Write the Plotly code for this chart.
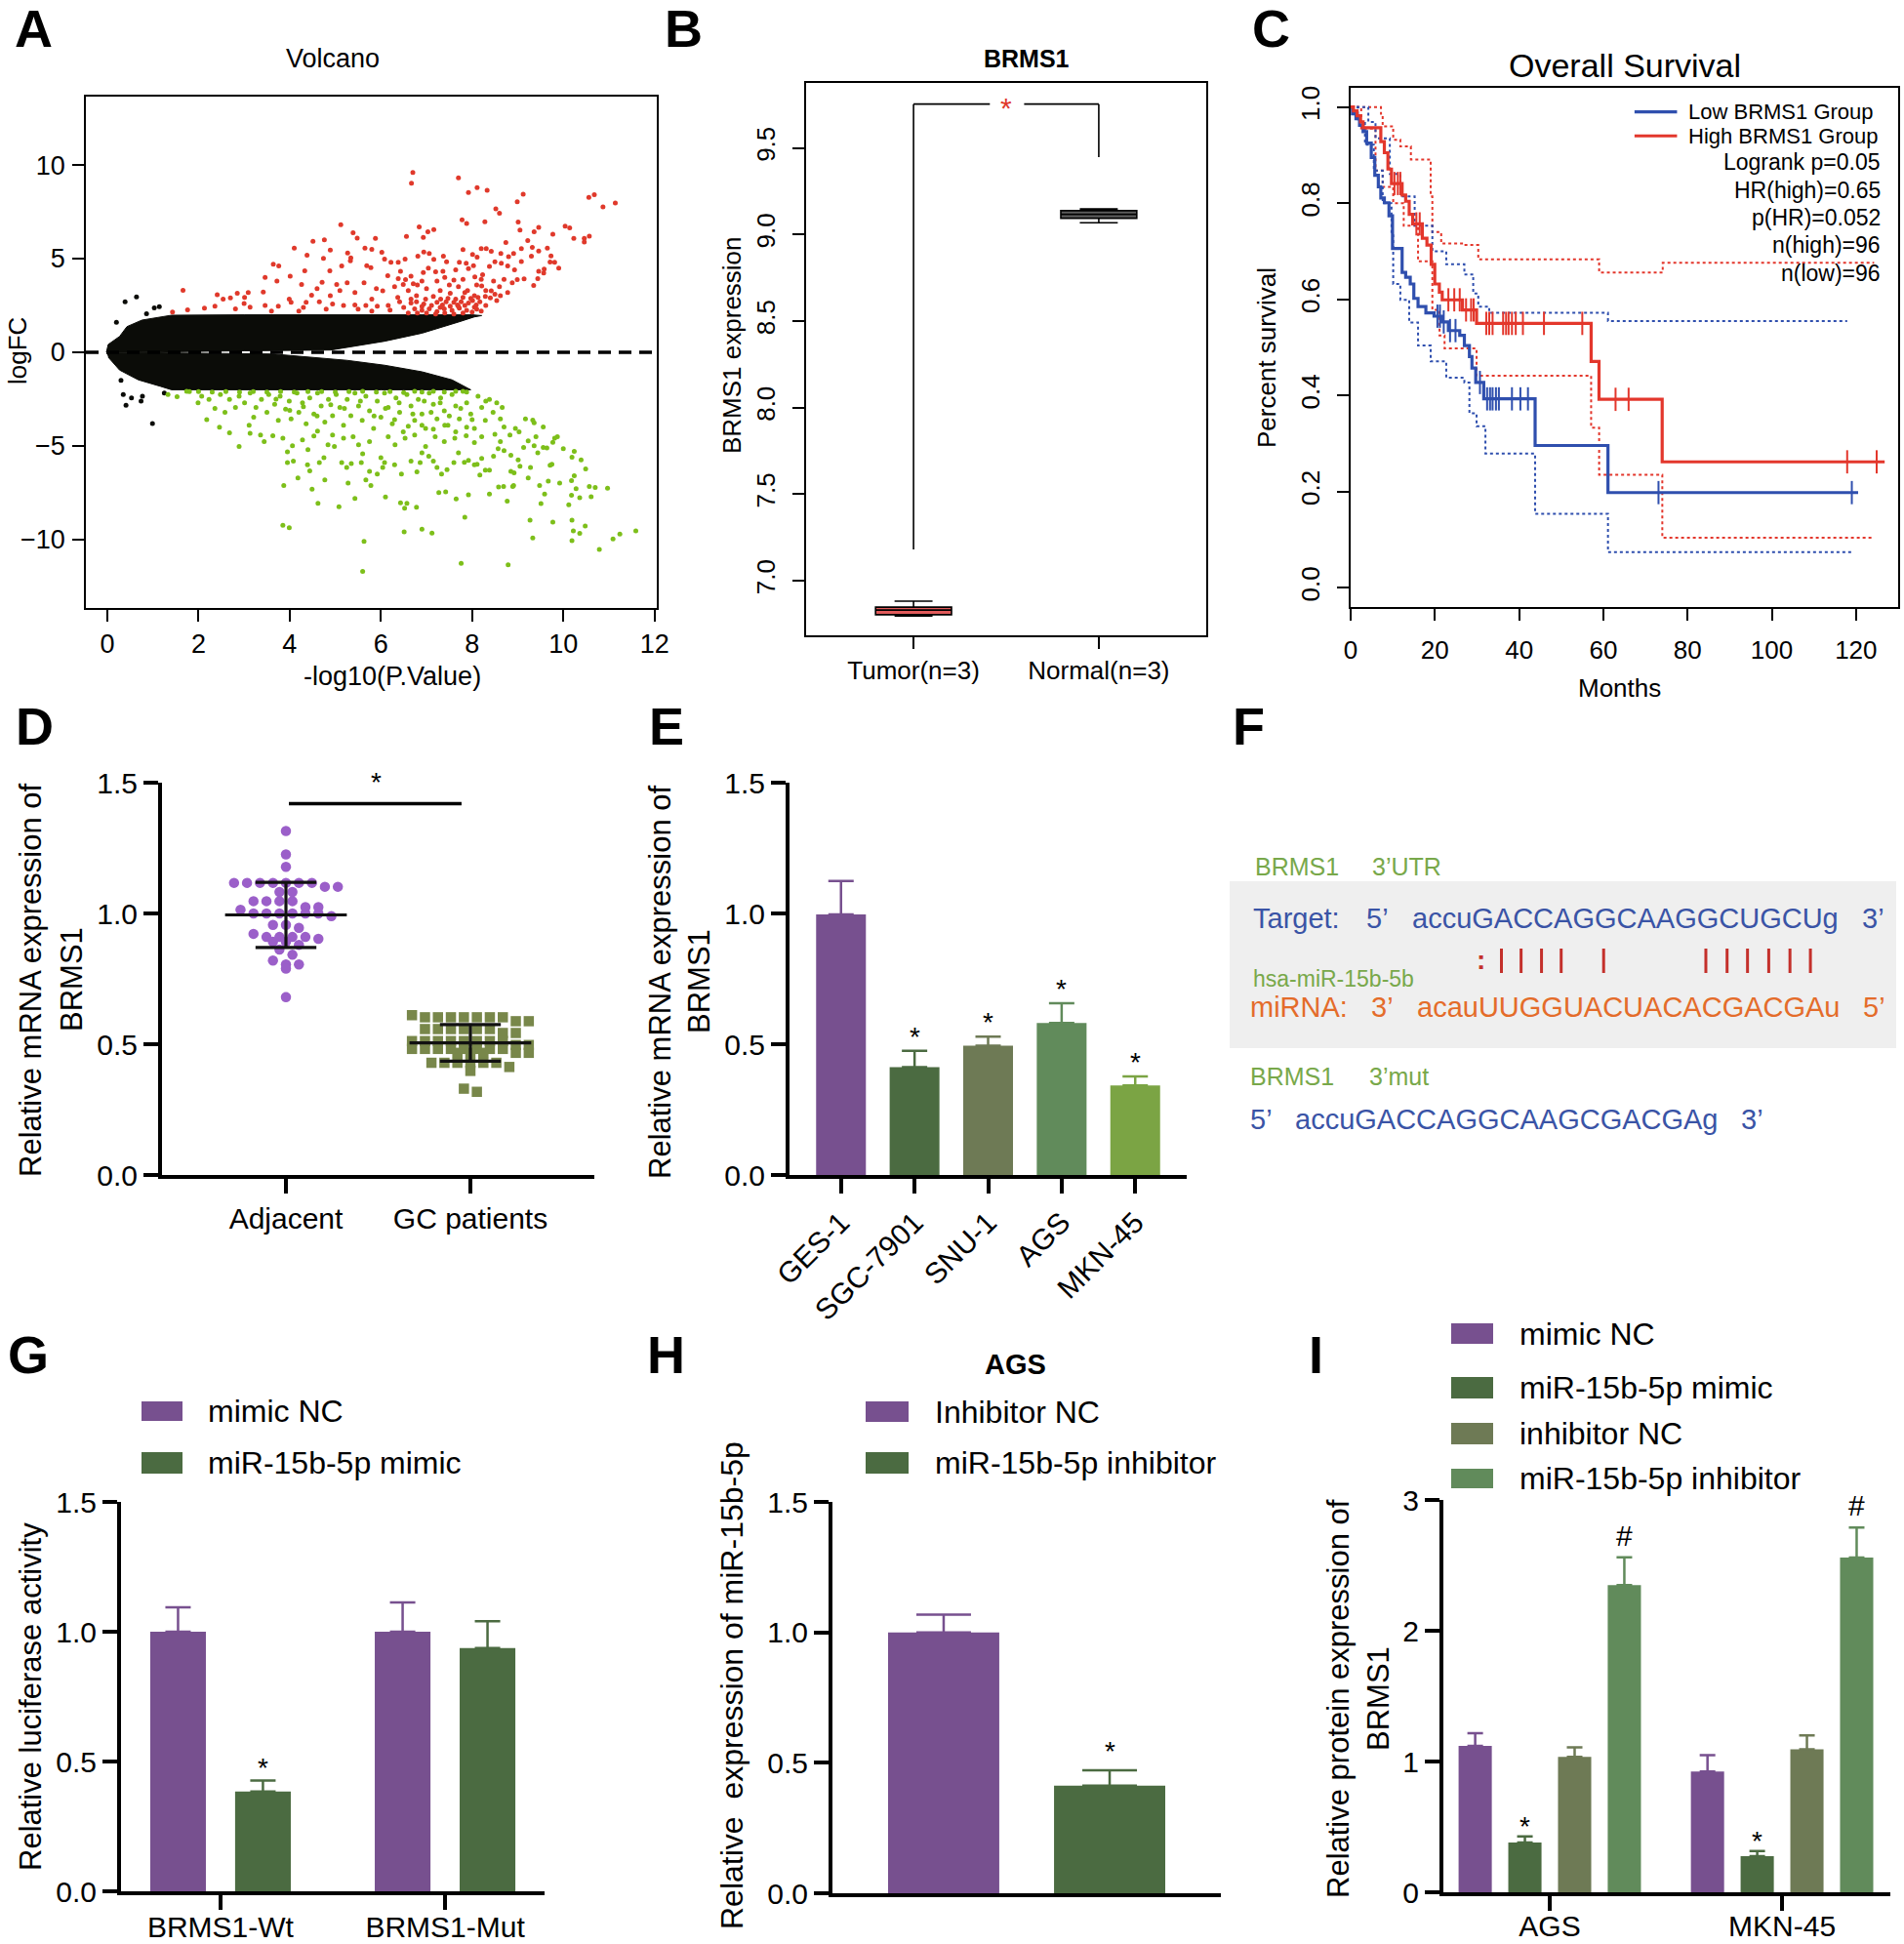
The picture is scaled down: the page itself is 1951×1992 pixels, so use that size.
import numpy as np
import plotly.graph_objects as go

# ---------------- data ----------------
# A: volcano (dense black cloud as envelope, coloured points)
cloud_up_x = [-0.02, 0.02, 0.27, 0.43, 0.76, 1.41, 3.0, 5.0, 7.0, 8.0, 8.21, 8.05, 7.72, 6.9, 6.08, 5.26, 4.9, 3.0, 1.4, 0.5]
cloud_up_y = [0.0, 0.42, 0.85, 1.37, 1.72, 1.98, 2.0, 2.0, 2.0, 2.0, 1.96, 1.89, 1.63, 1.02, 0.59, 0.24, 0.12, 0.08, 0.04, 0.0]
cloud_dn_x = [-0.02, 0.5, 2.0, 3.63, 5.26, 6.08, 6.9, 7.56, 7.88, 7.97, 6.0, 4.0, 1.41, 1.17, 0.68, 0.27, 0.02]
cloud_dn_y = [0.0, -0.02, -0.05, -0.09, -0.43, -0.69, -1.04, -1.47, -1.9, -2.0, -2.0, -2.0, -2.0, -1.82, -1.47, -0.95, -0.26]
black_pts = [(0.39, 2.70), (0.64, 2.96), (1.03, 2.37), (1.14, 2.44), (0.86, 2.06), (0.35, -2.25), (0.41, -2.82),
             (0.53, -2.43), (0.74, -2.60), (0.77, -2.34), (0.99, -3.80), (1.25, -2.17), (0.2, 1.6), (0.3, -1.5)]
red_pts = [(6.70,9.60),(6.67,9.03),(7.70,9.31),(8.11,8.79),(7.92,8.53),(8.33,8.65),(9.12,8.44),(8.99,8.04),(8.52,7.66),(8.60,7.43),
 (10.56,8.27),(10.68,8.42),(10.87,7.76),(11.14,7.97),(7.78,7.07),(7.88,6.88),(8.28,6.97),(9.01,6.95),(9.05,6.52),(9.46,6.67),
 (9.36,6.43),(10.04,6.74),(10.14,6.64),(9.77,6.31),(10.23,6.08),(10.46,6.08),(10.46,5.89),(10.57,6.20),(5.12,6.81),(5.39,6.38),
 (5.48,6.10),(5.88,6.08),(6.56,6.19),(6.84,6.69),(6.93,6.13),(7.03,6.43),(7.16,6.55),(4.51,5.93),(4.76,6.00),(4.10,5.56),
 (4.38,5.18),(4.89,5.46),(4.74,5.01),(5.27,5.30),(5.34,5.04),(5.65,5.56),(5.80,5.49),(6.02,5.34),(6.08,4.97),(6.22,4.80),
 (6.53,4.97),(6.81,5.13),(6.94,5.35),(7.06,5.27),(7.16,4.96),(7.37,5.13),(7.44,4.83),(7.80,5.48),(8.01,5.22),(8.20,5.53),
 (8.31,5.53),(8.42,5.39),(8.11,5.08),(8.63,5.27),(8.74,5.86),(8.80,5.10),(8.91,5.27),(9.08,5.53),(9.22,5.96),(9.32,5.60),
 (9.46,5.41),(9.65,5.56),(9.73,5.15),(9.71,4.82),(9.81,4.80),(9.90,4.49),(9.58,4.44),(9.46,4.33),(9.57,4.23),(9.44,3.93),
 (9.35,3.57),(9.14,3.92),(9.08,4.85),(9.30,5.13),(3.64,4.70),(3.76,4.61),(4.33,4.35),(4.88,4.35),(5.14,4.61),(5.33,4.89),
 (5.69,4.63),(5.78,4.52),(6.38,4.80),(6.43,4.32),(6.15,4.09),(6.38,3.93),(6.54,3.88),(6.66,4.06),(6.71,3.66),(6.93,4.26),
 (7.04,4.49),(7.20,4.30),(7.36,4.32),(7.64,4.40),(7.72,4.80),(7.87,4.75),(7.92,4.47),(8.03,4.63),(8.06,4.02),(8.23,4.14),
 (8.38,4.58),(8.50,4.83),(8.64,4.75),(8.78,4.61),(8.93,4.40),(8.88,3.71),(8.99,3.88),(3.46,4.00),(3.72,3.80),(4.01,4.06),
 (4.26,3.62),(4.71,3.74),(5.03,3.62),(5.26,3.71),(5.63,3.71),(6.04,3.28),(6.49,3.62),(7.23,3.80),(7.60,3.85),(8.21,3.54),
 (8.47,3.80),(8.78,3.19),(1.66,3.31),(2.41,3.08),(2.85,3.15),(3.09,3.19),(3.42,3.22),(2.54,2.84),(3.01,2.93),(3.99,2.84),
 (4.48,3.05),(4.89,3.02),(5.43,3.19),(5.80,2.84),(6.37,2.93),(6.78,3.02),(7.15,2.98),(7.52,3.15),(7.84,3.19),(8.05,3.02),
 (8.42,3.28),(8.62,3.02),(1.43,2.15),(1.76,2.27),(2.13,2.36),(2.36,2.46),(2.81,2.32),(3.13,2.41),(3.46,2.50),(3.75,2.46),
 (4.03,2.67),(4.36,2.67),(4.65,2.70),(4.94,2.58),(5.18,2.50),(5.43,2.53),(5.67,2.50),(5.92,2.46),(6.16,2.50),(6.41,2.70),
 (6.66,2.63),(6.78,2.70),(6.94,2.58),(7.11,2.50),(7.23,2.67),(7.35,2.53),(7.43,2.70),(7.52,2.46),(7.60,2.67),(7.68,2.53),
 (7.76,2.70),(7.84,2.50),(7.92,2.63),(8.01,2.76),(8.09,2.53),(8.17,2.70),(6.74,2.32),(6.90,2.24),(7.06,2.32),(7.23,2.18),
 (7.39,2.32),(7.56,2.24),(7.72,2.36),(7.88,2.24),(8.05,2.41),(6.66,2.84),(6.98,2.84),(7.31,2.84),(7.64,2.84),(7.97,2.88),
 (8.29,2.98),(8.54,2.76),(8.13,2.93),(7.80,2.93),(7.47,2.88),(6.6,2.1),(6.8,2.1),(7.0,2.1),(7.2,2.05),(7.4,2.1),(7.6,2.05),
 (7.8,2.1),(8.0,2.15),(8.2,2.2),(6.5,2.4),(6.9,2.45),(7.3,2.4),(7.7,2.45),(8.1,2.3),(8.3,2.5),(8.4,2.9),(8.5,3.1),(8.3,3.3),
 (8.1,3.6),(7.9,3.3),(7.7,3.5),(7.5,3.6),(7.3,3.3),(7.0,3.4),(6.8,3.6),(6.6,3.3),(8.6,3.5),(8.7,3.9),(8.2,3.9),(7.8,3.9),
 (7.4,4.0),(6.9,3.8),(6.3,3.5),(5.9,3.4),(5.5,2.3),(5.8,2.2),(6.2,2.25),(4.8,2.3),(4.2,2.2),(3.6,2.2),(3.0,2.6),(2.7,2.9),
 (5.1,3.3),(4.6,3.4),(4.3,2.4)]
green_pts = [(5.60,-11.70),(5.63,-10.10),(7.76,-11.26),(8.79,-11.35),(10.79,-10.52),(11.09,-9.96),(11.24,-9.70),(11.59,-9.53),
 (10.19,-10.05),(10.22,-9.53),(10.36,-9.67),(10.48,-9.27),(10.19,-8.96),(9.77,-9.06),(9.33,-9.91),(9.27,-8.96),(8.77,-7.94),
 (7.84,-8.80),(7.12,-9.65),(6.90,-9.44),(6.51,-9.58),(3.85,-9.24),(3.99,-9.36),(4.62,-8.06),(5.08,-8.25),(5.43,-7.80),
 (6.10,-7.73),(6.43,-8.04),(6.57,-8.06),(6.78,-8.27),(6.52,-8.32),(7.65,-7.83),(7.27,-7.49),(7.42,-7.45),(7.92,-7.61),
 (8.38,-7.57),(8.58,-7.19),(8.69,-7.16),(8.91,-7.11),(9.51,-8.08),(9.59,-7.57),(10.12,-8.14),(10.18,-7.63),(10.36,-7.76),
 (10.61,-7.71),(10.57,-7.16),(10.70,-7.21),(10.97,-7.26),(10.28,-7.28),(10.18,-6.85),(10.24,-6.59),(9.92,-6.98),(9.67,-6.88),
 (9.48,-7.11),(9.23,-6.71),(9.28,-6.15),(8.92,-6.43),(8.85,-6.36),(9.05,-6.08),(8.89,-7.16),(10.49,-6.22),(10.39,-5.74),
 (10.19,-5.60),(10.00,-5.15),(10.24,-5.29),(9.75,-5.98),(9.71,-6.03),(9.77,-4.80),(9.87,-4.51),(9.81,-4.59),(9.56,-3.99),
 (9.33,-3.62),(9.36,-3.76),(9.64,-5.11),(9.56,-5.08),(9.44,-5.37),(9.36,-4.99),(9.40,-4.51),(9.17,-3.55),(9.23,-4.73),
 (9.13,-5.08),(9.01,-5.74),(8.85,-5.49),(8.70,-5.25),(8.57,-5.15),(8.47,-5.55),(8.21,-5.67),(8.11,-5.98),(8.17,-6.55),
 (8.29,-6.29),(8.38,-6.29),(8.05,-6.01),(7.92,-5.77),(7.83,-5.87),(7.70,-5.37),(7.60,-5.89),(7.45,-6.27),(7.33,-6.50),
 (7.23,-6.15),(7.15,-5.81),(7.05,-5.55),(6.90,-5.37),(6.86,-5.89),(6.79,-6.38),(6.66,-5.81),(6.45,-6.50),(6.30,-6.01),
 (6.08,-5.89),(6.04,-6.15),(6.00,-5.63),(5.92,-6.50),(5.75,-6.36),(5.78,-7.11),(5.67,-6.81),(5.60,-5.42),(5.57,-5.89),
 (5.35,-5.94),(5.28,-6.98),(5.25,-6.15),(5.14,-5.89),(4.98,-5.03),(4.77,-6.81),(4.75,-5.63),(4.65,-5.89),(4.49,-7.31),
 (4.44,-6.33),(4.39,-6.01),(4.18,-6.71),(4.08,-5.81),(3.95,-5.89),(3.87,-7.11),(3.95,-5.32),(2.89,-5.03),(2.68,-4.30),
 (2.46,-4.00),(2.18,-3.59),(3.44,-4.77),(3.36,-4.42),(3.13,-4.33),(3.11,-3.90),(3.63,-4.45),(3.85,-4.59),(4.06,-4.99),
 (4.28,-4.68),(4.40,-5.20),(4.53,-4.47),(4.61,-4.21),(4.84,-4.94),(4.94,-4.42),(5.18,-4.59),(5.39,-4.51),(5.51,-4.94),
 (5.75,-4.77),(6.16,-4.51),(6.31,-4.94),(6.53,-4.59),(6.74,-4.42),(6.98,-5.03),(7.19,-4.51),(7.39,-4.77),(7.62,-4.59),
 (7.87,-4.45),(8.05,-4.82),(8.21,-4.51),(8.50,-4.38),(8.62,-4.77),(8.83,-4.42),(8.95,-4.07),(9.03,-4.25),
 (1.33,-2.25),(1.53,-2.37),(1.74,-2.08),(1.99,-2.69),(2.07,-2.34),(2.23,-2.51),(2.36,-3.00),(2.48,-2.25),(2.58,-3.21),
 (2.68,-2.51),(2.81,-2.95),(2.89,-2.34),(3.01,-2.69),(3.13,-2.17),(3.21,-3.47),(3.26,-2.95),(3.38,-2.51),(3.50,-3.21),
 (3.54,-2.25),(3.67,-2.77),(3.75,-3.64),(3.79,-2.34),(3.91,-3.03),(3.99,-2.60),(4.03,-3.55),(4.16,-2.17),(4.20,-3.21),
 (4.28,-2.69),(4.36,-3.81),(4.44,-2.43),(4.53,-3.29),(4.61,-2.17),(4.69,-2.86),(4.77,-3.73),(4.85,-2.51),(4.94,-3.38),
 (5.02,-2.25),(5.10,-2.95),(5.18,-3.90),(5.26,-2.51),(5.34,-3.38),(5.43,-2.17),(5.51,-2.86),(5.59,-3.64),(5.67,-2.34),
 (5.75,-3.12),(5.84,-4.07),(5.92,-2.60),(6.00,-3.47),(6.08,-2.17),(6.16,-2.95),(6.25,-3.81),(6.33,-2.43),(6.41,-3.21),
 (6.49,-4.25),(6.57,-2.25),(6.66,-2.86),(6.74,-3.64),(6.82,-2.51),(6.90,-3.29),(6.98,-4.07),(7.06,-2.17),(7.15,-2.77),
 (7.23,-3.55),(7.31,-2.43),(7.39,-3.12),(7.47,-3.90),(7.56,-2.25),(7.64,-2.86),(7.72,-3.55),(7.80,-2.08),(7.88,-2.69),
 (7.97,-3.29),(8.05,-4.07),(8.13,-2.34),(8.21,-2.95),(8.29,-3.64),(8.38,-2.51),(8.46,-3.21),(8.54,-2.69),(8.62,-3.55),
 (8.66,-2.95),(8.70,-3.99),(6.74,-2.08),(6.90,-2.12),(7.15,-2.08),(7.39,-2.12),(7.64,-2.08),(7.88,-2.12),(6.5,-2.15),
 (6.2,-2.1),(5.9,-2.12),(5.6,-2.08),(5.3,-2.1),(5.0,-2.12),(4.7,-2.1),(4.4,-2.1),(4.1,-2.12),(3.8,-2.1),(3.5,-2.12),
 (3.2,-2.1),(2.9,-2.12),(2.6,-2.1),(2.3,-2.12),(2.0,-2.1),(1.8,-2.1),(6.9,-3.9),(7.15,-4.1),(7.4,-3.9),(7.64,-4.25),
 (7.88,-4.0),(6.6,-3.95),(6.3,-3.6),(7.1,-3.2),(7.5,-3.4),(7.75,-3.0),(8.0,-3.6),(8.3,-2.6),(7.3,-2.7),(6.95,-2.6),
 (6.7,-3.3),(6.4,-2.7),(6.1,-3.0),(5.85,-3.4),(5.55,-2.6),(5.2,-3.0),(4.9,-2.8),(4.6,-3.4),(4.3,-2.9),(4.0,-3.1),(3.7,-2.5)]

# B: boxplot stats
box_groups = ["Tumor(n=3)", "Normal(n=3)"]
box_low = [6.796, 9.068]
box_q1 = [6.803, 9.094]
box_med = [6.830, 9.117]
box_q3 = [6.847, 9.138]
box_high = [6.881, 9.148]

# C: Kaplan-Meier
km_high_t = [0, 0.67, 1.52, 2.36, 2.95, 7.16, 8.0, 8.85, 9.69, 12.22, 13.06, 13.9, 14.74, 17.02, 18.11, 19.12, 19.97, 21.06, 21.74, 26.54, 29.9, 57.1, 58.97, 73.97, 126.8]
km_high_s = [1.0, 0.992, 0.982, 0.969, 0.957, 0.928, 0.905, 0.871, 0.841, 0.817, 0.804, 0.777, 0.757, 0.727, 0.713, 0.673, 0.632, 0.615, 0.599, 0.578, 0.55, 0.471, 0.392, 0.262, 0.262]
km_high_cens = [10.4, 11.2, 11.8, 15.6, 16.4, 23.2, 24.6, 25.9, 27.4, 28.6, 29.2, 32.2, 32.9, 33.7, 36.2, 36.9, 37.5, 38.3, 39.2, 40.9, 45.9, 55.0, 62.9, 66.0, 117.9, 124.9]
km_low_t = [0, 0.42, 1.26, 2.11, 2.95, 3.79, 4.89, 5.73, 6.57, 7.16, 8.0, 9.1, 9.94, 12.22, 13.06, 14.15, 15.0, 16.0, 17.86, 19.8, 21.7, 23.2, 25.9, 27.0, 28.2, 28.8, 29.7, 31.6, 43.8, 61.1, 120.5]
km_low_s = [1.0, 0.986, 0.976, 0.962, 0.949, 0.925, 0.895, 0.858, 0.834, 0.811, 0.801, 0.774, 0.706, 0.656, 0.646, 0.632, 0.602, 0.585, 0.572, 0.565, 0.553, 0.535, 0.525, 0.504, 0.481, 0.457, 0.427, 0.393, 0.296, 0.198, 0.198]
km_low_cens = [20.6, 21.2, 22.1, 23.6, 24.9, 30.7, 32.4, 33.1, 33.7, 34.5, 35.2, 38.3, 40.3, 42.1, 73.1, 119.0]
ci_high_up_t = [0, 7.2, 7.6, 10.1, 11.8, 14.3, 19.0, 19.4, 21.5, 27.0, 30.3, 59.0, 74.1, 124.3]
ci_high_up_s = [1.0, 0.986, 0.96, 0.932, 0.918, 0.891, 0.814, 0.74, 0.716, 0.713, 0.683, 0.656, 0.676, 0.676]
ci_high_lo_t = [0, 2.5, 5.9, 7.6, 10.1, 12.6, 16.0, 19.4, 21.1, 22.3, 29.9, 57.1, 59.0, 74.0, 124.3]
ci_high_lo_s = [1.0, 0.955, 0.868, 0.834, 0.80, 0.753, 0.679, 0.578, 0.525, 0.498, 0.441, 0.333, 0.235, 0.104, 0.104]
ci_low_up_t = [0, 0.84, 4.2, 5.9, 9.3, 11.8, 15.2, 19.4, 22.7, 27.0, 29.1, 30.3, 32.9, 61.1, 117.9]
ci_low_up_s = [1.0, 1.0, 0.969, 0.935, 0.861, 0.814, 0.753, 0.70, 0.673, 0.652, 0.612, 0.585, 0.572, 0.555, 0.555]
ci_low_lo_t = [0, 1.7, 3.4, 5.5, 7.6, 9.7, 10.1, 11.8, 13.9, 16.0, 19.0, 22.7, 27.0, 28.2, 29.9, 32.0, 43.8, 61.1, 119.2]
ci_low_lo_s = [1.0, 0.969, 0.922, 0.868, 0.80, 0.733, 0.632, 0.599, 0.552, 0.504, 0.471, 0.437, 0.427, 0.363, 0.336, 0.279, 0.154, 0.074, 0.074]
km_stats = ["Logrank p=0.05", "HR(high)=0.65", "p(HR)=0.052", "n(high)=96", "n(low)=96"]

# D: scatter
d_groups = ["Adjacent", "GC patients"]
d_adjacent = [1.315, 1.226, 1.178, 1.117, 1.117, 1.117, 1.117, 1.117, 1.117, 1.117, 1.102, 1.102, 1.082, 1.082,
              1.047, 1.047, 1.047, 1.047, 1.024, 1.024, 1.014, 1.0, 1.0, 1.0, 1.0, 1.0, 1.0, 0.99, 0.956, 0.956,
              0.945, 0.922, 0.91, 0.91, 0.91, 0.91, 0.903, 0.892, 0.892, 0.88, 0.862, 0.842, 0.82, 0.805, 0.805,
              0.789, 0.68]
d_gc = [0.611, 0.603, 0.603, 0.603, 0.603, 0.603, 0.603, 0.603, 0.588, 0.588, 0.558, 0.558, 0.558, 0.558, 0.558,
        0.558, 0.543, 0.543, 0.512, 0.512, 0.512, 0.512, 0.512, 0.512, 0.512, 0.512, 0.497, 0.497, 0.482, 0.482,
        0.482, 0.482, 0.482, 0.482, 0.482, 0.482, 0.467, 0.467, 0.467, 0.467, 0.467, 0.429, 0.429, 0.429, 0.429,
        0.429, 0.429, 0.413, 0.398, 0.33, 0.318]

# E
e_cells = ["GES-1", "SGC-7901", "SNU-1", "AGS", "MKN-45"]
e_vals = [0.996, 0.412, 0.494, 0.581, 0.342]
e_tops = [1.124, 0.475, 0.529, 0.657, 0.377]

# F
seq_target = "accuGACCAGGCAAGGCUGCUg"
seq_mirna = "acauUUGGUACUACACGACGAu"
seq_mut = "accuGACCAGGCAAGCGACGAg"
pair_bars = [5, 6, 7, 8, 10, 15, 16, 17, 18, 19, 20]
pair_wobble = [4]

# G
g_groups = ["BRMS1-Wt", "BRMS1-Mut"]
g_nc = [1.0, 1.0]
g_nc_top = [1.094, 1.1125]
g_mimic = [0.384, 0.9375]
g_mimic_top = [0.427, 1.04]

# H
h_names = ["Inhibitor NC", "miR-15b-5p inhibitor"]
h_vals = [1.0, 0.412]
h_tops = [1.068, 0.471]

# I
i_groups = ["AGS", "MKN-45"]
i_series = ["mimic NC", "miR-15b-5p mimic", "inhibitor NC", "miR-15b-5p inhibitor"]
i_vals = [[1.119, 0.924], [0.380, 0.276], [1.035, 1.093], [2.348, 2.559]]
i_tops = [[1.216, 1.048], [0.428, 0.315], [1.109, 1.200], [2.562, 2.789]]
i_marks = [None, "*", None, "#"]

# ---------------- styling / helpers ----------------
W, H = 1951, 1992
FONT = "Liberation Sans, Arial, Helvetica, sans-serif"
PURPLE = "#77508f"
DKGREEN = "#4b6b41"
OLIVE = "#6e7a55"
MDGREEN = "#618b5b"
LTGREEN = "#7ba444"
KM_RED = "#e3372c"
KM_BLUE = "#2f4fae"


def xd(a, b):
    return [a / W, b / W]


def yd(top, bottom):
    return [1 - bottom / H, 1 - top / H]


def px(x):
    return x / W


def py(y):
    return 1 - y / H


annotations = []
shapes = []


def txt(s, x, y, size, color="black", bold=False, angle=0, xa="center", ya="middle"):
    annotations.append(dict(text=f"<b>{s}</b>" if bold else s, x=px(x), y=py(y), xref="paper", yref="paper",
                            xanchor=xa, yanchor=ya, showarrow=False, textangle=angle,
                            font=dict(size=size, color=color, family=FONT)))


def dtxt(s, x, y, ax, size=28, color="black", ya="bottom", yshift=0):
    annotations.append(dict(text=s, x=x, y=y, xref="x" + ax, yref="y" + ax, xanchor="center", yanchor=ya,
                            yshift=yshift, showarrow=False, font=dict(size=size, color=color, family=FONT)))


def r_axis(**kw):
    base = dict(showline=True, mirror=True, linecolor="black", linewidth=1.6, ticks="outside", ticklen=12,
                tickwidth=1.6, tickcolor="black", showgrid=False, zeroline=False, automargin=False,
                tickfont=dict(size=26, color="black", family=FONT))
    base.update(kw)
    return base


def p_axis(**kw):
    base = dict(showline=True, linecolor="black", linewidth=4, ticks="outside", ticklen=15, tickwidth=4,
                tickcolor="black", showgrid=False, zeroline=False, automargin=False,
                tickfont=dict(size=30, color="black", family=FONT))
    base.update(kw)
    return base


fig = go.Figure()

# ---------------- A: volcano ----------------
fig.add_trace(go.Scatter(x=cloud_up_x, y=cloud_up_y, fill="toself", fillcolor="#0b0c08", mode="lines",
                         line=dict(width=1, color="#0b0c08"), xaxis="x", yaxis="y"))
fig.add_trace(go.Scatter(x=cloud_dn_x, y=cloud_dn_y, fill="toself", fillcolor="#0b0c08", mode="lines",
                         line=dict(width=1, color="#0b0c08"), xaxis="x", yaxis="y"))
fig.add_trace(go.Scatter(x=[p[0] for p in black_pts], y=[p[1] for p in black_pts], mode="markers",
                         marker=dict(size=5, color="#0b0c08"), xaxis="x", yaxis="y"))
fig.add_trace(go.Scatter(x=[p[0] for p in red_pts], y=[p[1] for p in red_pts], mode="markers",
                         marker=dict(size=5, color="#e0392b"), xaxis="x", yaxis="y"))
fig.add_trace(go.Scatter(x=[p[0] for p in green_pts], y=[p[1] for p in green_pts], mode="markers",
                         marker=dict(size=5, color="#7dbf1a"), xaxis="x", yaxis="y"))
shapes.append(dict(type="line", xref="x", yref="y", x0=-0.47, x1=12.05, y0=0, y1=0,
                   line=dict(color="black", width=3.5, dash="13px,8px")))

# ---------------- B: boxplot ----------------
box_fill = ["#e05a5a", "#5c5c5c"]
for i in range(2):
    fig.add_trace(go.Box(x=[i + 1], q1=[box_q1[i]], median=[box_med[i]], q3=[box_q3[i]],
                         lowerfence=[box_low[i]], upperfence=[box_high[i]], width=0.41, whiskerwidth=0.5,
                         fillcolor=box_fill[i], line=dict(color="black", width=1.6), boxpoints=False,
                         xaxis="x2", yaxis="y2"))
br_y = 9.754
for (x0, y0, x1, y1) in [(1, 7.18, 1, br_y), (1, br_y, 1.412, br_y), (1.597, br_y, 2.0, br_y), (2.0, br_y, 2.0, 9.448)]:
    shapes.append(dict(type="line", xref="x2", yref="y2", x0=x0, y0=y0, x1=x1, y1=y1,
                       line=dict(color="black", width=1.6)))
annotations.append(dict(text="*", x=1.5, y=br_y, xref="x2", yref="y2", showarrow=False, yanchor="middle",
                        yshift=-4, font=dict(size=30, color="#e0392b", family=FONT)))

# ---------------- C: KM ----------------
for t, s, c in [(ci_high_up_t, ci_high_up_s, KM_RED), (ci_high_lo_t, ci_high_lo_s, KM_RED),
                (ci_low_up_t, ci_low_up_s, KM_BLUE), (ci_low_lo_t, ci_low_lo_s, KM_BLUE)]:
    fig.add_trace(go.Scatter(x=t, y=s, mode="lines", line=dict(color=c, width=2, dash="dot", shape="hv"),
                             xaxis="x3", yaxis="y3"))
for t, s, cens, c in [(km_low_t, km_low_s, km_low_cens, KM_BLUE), (km_high_t, km_high_s, km_high_cens, KM_RED)]:
    fig.add_trace(go.Scatter(x=t, y=s, mode="lines", line=dict(color=c, width=3.2, shape="hv"),
                             xaxis="x3", yaxis="y3"))
    idx = np.searchsorted(np.array(t), np.array(cens), side="right") - 1
    cy = [s[k] for k in idx]
    fig.add_trace(go.Scatter(x=cens, y=cy, mode="markers",
                             marker=dict(symbol="line-ns-open", size=17, color=c, line=dict(color=c, width=2)),
                             xaxis="x3", yaxis="y3"))
shapes.append(dict(type="line", xref="x3", yref="y3", x0=67.4, x1=77.5, y0=0.99, y1=0.99,
                   line=dict(color=KM_BLUE, width=3.2)))
shapes.append(dict(type="line", xref="x3", yref="y3", x0=67.4, x1=77.5, y0=0.94, y1=0.94,
                   line=dict(color=KM_RED, width=3.2)))
for lab, yy in [("Low BRMS1 Group", 0.99), ("High BRMS1 Group", 0.94)]:
    annotations.append(dict(text=lab, x=79.6, y=yy, xref="x3", yref="y3", xanchor="left", yanchor="middle",
                            showarrow=False, font=dict(size=22, color="black", family=FONT)))
for k, lab in enumerate(km_stats):
    annotations.append(dict(text=lab, x=126.4, y=0.885 - k * 0.0575, xref="x3", yref="y3", xanchor="right",
                            yanchor="middle", showarrow=False, font=dict(size=23, color="black", family=FONT)))

# ---------------- D: dot plot ----------------


def row_offsets(vals, ppx, spacing_px, row_tol, max_row):
    """Column-scatter layout: points with close values share a row, spread symmetrically."""
    vals = np.asarray(vals, dtype=float)
    order = np.argsort(-vals, kind="stable")
    rows = []
    for i in order:
        if rows and rows[-1][0] - vals[i] < row_tol and len(rows[-1][1]) < max_row:
            rows[-1][1].append(i)
        else:
            rows.append([vals[i], [i]])
    offs = np.zeros(len(vals))
    for _, members in rows:
        n = len(members)
        for k, i in enumerate(members):
            offs[i] = (k - (n - 1) / 2) * spacing_px / ppx
    return offs


PPX_D = 189.0
for gi, (vals, sym, col) in enumerate([(d_adjacent, "circle", "#9b5fc9"), (d_gc, "square", "#78874a")]):
    offs = row_offsets(vals, PPX_D, 13.3, 0.025, 10)
    fig.add_trace(go.Scatter(x=gi + offs, y=vals, mode="markers",
                             marker=dict(symbol=sym, size=10.5, color=col, line=dict(width=0)),
                             xaxis="x4", yaxis="y4"))
    m = float(np.mean(vals))
    sd = float(np.std(vals, ddof=1))
    fig.add_trace(go.Scatter(x=[gi - 0.33, gi + 0.33, None, gi - 0.165, gi + 0.165, None, gi - 0.165, gi + 0.165,
                                None, gi, gi],
                             y=[m, m, None, m + sd, m + sd, None, m - sd, m - sd, None, m - sd, m + sd],
                             mode="lines", line=dict(color="#111111", width=3.2), xaxis="x4", yaxis="y4"))
shapes.append(dict(type="line", xref="x4", yref="y4", x0=0.016, x1=0.952, y0=1.42, y1=1.42,
                   line=dict(color="black", width=3.5)))
annotations.append(dict(text="*", x=0.487, y=1.42, xref="x4", yref="y4", showarrow=False, yanchor="bottom",
                        yshift=4, font=dict(size=28, color="black", family=FONT)))

# ---------------- E: bars ----------------
e_cols = [PURPLE, DKGREEN, OLIVE, MDGREEN, LTGREEN]
for i in range(5):
    fig.add_trace(go.Bar(x=[i], y=[e_vals[i]], width=0.677, marker=dict(color=e_cols[i], line=dict(width=0)),
                         error_y=dict(type="data", array=[e_tops[i] - e_vals[i]], arrayminus=[0],
                                      symmetric=False, color=e_cols[i], thickness=2.5, width=13),
                         xaxis="x5", yaxis="y5"))
    if i > 0:
        dtxt("*", i, e_tops[i], "5", size=28, yshift=-3)

# ---------------- G: luciferase ----------------
for vals, tops, col, off in [(g_nc, g_nc_top, PURPLE, -0.189), (g_mimic, g_mimic_top, DKGREEN, 0.189)]:
    for gi in range(2):
        fig.add_trace(go.Bar(x=[gi + off], y=[vals[gi]], width=0.248, marker=dict(color=col, line=dict(width=0)),
                             error_y=dict(type="data", array=[tops[gi] - vals[gi]], arrayminus=[0],
                                          symmetric=False, color=col, thickness=2.5, width=13),
                             xaxis="x6", yaxis="y6"))
dtxt("*", 0.189, g_mimic_top[0], "6", size=28, yshift=-5)

# ---------------- H ----------------
h_cols = [PURPLE, DKGREEN]
for i in range(2):
    fig.add_trace(go.Bar(x=[i], y=[h_vals[i]], width=0.67, marker=dict(color=h_cols[i], line=dict(width=0)),
                         error_y=dict(type="data", array=[h_tops[i] - h_vals[i]], arrayminus=[0],
                                      symmetric=False, color=h_cols[i], thickness=2.5, width=28),
                         xaxis="x7", yaxis="y7"))
dtxt("*", 1, h_tops[1], "7", size=28, yshift=2)

# ---------------- I ----------------
i_cols = [PURPLE, DKGREEN, OLIVE, MDGREEN]
i_offs = [-0.321, -0.107, 0.107, 0.321]
for si in range(4):
    for gi in range(2):
        fig.add_trace(go.Bar(x=[gi + i_offs[si]], y=[i_vals[si][gi]], width=0.143,
                             marker=dict(color=i_cols[si], line=dict(width=0)),
                             error_y=dict(type="data", array=[i_tops[si][gi] - i_vals[si][gi]], arrayminus=[0],
                                          symmetric=False, color=i_cols[si], thickness=2.5, width=8),
                             xaxis="x8", yaxis="y8"))
        if i_marks[si] == "*":
            dtxt("*", gi + i_offs[si], i_tops[si][gi], "8", size=28, yshift=-7)
        elif i_marks[si] == "#":
            dtxt("#", gi + i_offs[si], i_tops[si][gi], "8", size=30, yshift=4)

# ---------------- F: sequence diagram ----------------
ARIAL_W = {"a": .556, "c": .5, "u": .556, "g": .556, "G": .778, "A": .667, "C": .722, "U": .722}
SEQ_FS = 29
BLUE_T = "#3a54a6"
ORANGE_T = "#e46c2a"
GREEN_T = "#78a84a"
shapes.append(dict(type="rect", xref="paper", yref="paper", x0=px(1260), x1=px(1943), y0=py(1074), y1=py(903),
                   fillcolor="#efefef", line=dict(width=0), layer="below"))
txt("BRMS1", 1284, 888, 25, GREEN_T, xa="left")
txt("3\u2019UTR", 1404, 888, 25, GREEN_T, xa="left")
txt("Target:", 1282, 941, SEQ_FS, BLUE_T, xa="left")
txt("5\u2019", 1398, 941, SEQ_FS, BLUE_T, xa="left")
txt(seq_target, 1445, 941, SEQ_FS, BLUE_T, xa="left")
txt("3\u2019", 1906, 941, SEQ_FS, BLUE_T, xa="left")
cum = np.cumsum([0] + [ARIAL_W[ch] for ch in seq_target])
centers = [1445 + SEQ_FS * (cum[i] + ARIAL_W[seq_target[i]] / 2) for i in range(len(seq_target))]
for i in pair_bars:
    shapes.append(dict(type="line", xref="paper", yref="paper", x0=px(centers[i]), x1=px(centers[i]),
                       y0=py(997), y1=py(972), line=dict(color="#c4302b", width=3)))
for i in pair_wobble:
    txt("<b>:</b>", centers[i], 984, 28, "#c4302b")
txt("hsa-miR-15b-5b", 1282, 1003, 23, GREEN_T, xa="left")
txt("miRNA:", 1279, 1032, SEQ_FS, ORANGE_T, xa="left")
txt("3\u2019", 1403, 1032, SEQ_FS, ORANGE_T, xa="left")
txt(seq_mirna, 1450, 1032, SEQ_FS, ORANGE_T, xa="left")
txt("5\u2019", 1907, 1032, SEQ_FS, ORANGE_T, xa="left")
txt("BRMS1", 1279, 1103, 25, GREEN_T, xa="left")
txt("3\u2019mut", 1401, 1103, 25, GREEN_T, xa="left")
txt("5\u2019", 1279, 1147, SEQ_FS, BLUE_T, xa="left")
txt(seq_mut, 1325, 1147, SEQ_FS, BLUE_T, xa="left")
txt("3\u2019", 1782, 1147, SEQ_FS, BLUE_T, xa="left")

# ---------------- legends (G, H, I) ----------------


def legend_item(x0, x1, ytop, ybot, col, label, tx, size=32):
    shapes.append(dict(type="rect", xref="paper", yref="paper", x0=px(x0), x1=px(x1), y0=py(ybot), y1=py(ytop),
                       fillcolor=col, line=dict(width=0)))
    txt(label, tx, (ytop + ybot) / 2, size, xa="left")


legend_item(145, 187, 1436, 1456, PURPLE, "mimic NC", 211)
legend_item(145, 187, 1488, 1510, DKGREEN, "miR-15b-5p mimic", 211)
legend_item(887, 931, 1436, 1457, PURPLE, h_names[0], 956)
legend_item(887, 931, 1488, 1510, DKGREEN, h_names[1], 956)
for k, (yt, yb) in enumerate([(1356, 1377), (1411, 1433), (1458, 1480), (1505, 1525)]):
    legend_item(1487, 1530, yt, yb, i_cols[k], i_series[k], 1555)

# ---------------- panel letters & titles ----------------
for L, x, y in [("A", 34, 29), ("B", 700, 29), ("C", 1302, 29), ("D", 35, 744), ("E", 683, 744),
                ("F", 1279, 744), ("G", 29, 1388), ("H", 682, 1388), ("I", 1348, 1388)]:
    txt(L, x, y, 54, bold=True)
txt("Volcano", 341, 60, 27)
txt("-log10(P.Value)", 402, 693, 27)
txt("logFC", 18, 360, 26, angle=-90)
txt("BRMS1", 1052, 60, 25, bold=True)
txt("BRMS1 expression", 750, 354, 26, angle=-90)
txt("Overall Survival", 1665, 67, 34)
txt("Months", 1659, 705, 26)
txt("Percent survival", 1298, 367, 26, angle=-90)
txt("Relative mRNA expression of", 31, 1004, 31, angle=-90)
txt("BRMS1", 73, 1004, 31, angle=-90)
txt("Relative mRNA expression of", 677, 1006, 31, angle=-90)
txt("BRMS1", 717, 1006, 31, angle=-90)
txt("Relative luciferase activity", 31, 1739, 31, angle=-90)
txt("AGS", 1040, 1398, 29, bold=True)
txt("Relative\u00a0\u00a0expression of miR-15b-5p", 750, 1727, 32, angle=-90)
txt("Relative protein expression of", 1371, 1741, 31, angle=-90)
txt("BRMS1", 1412, 1741, 31, angle=-90)

# ---------------- layout ----------------
fig.update_layout(
    width=W, height=H, margin=dict(l=0, r=0, t=0, b=0, pad=0, autoexpand=False), autosize=False,
    paper_bgcolor="white", plot_bgcolor="white", showlegend=False, barmode="overlay",
    font=dict(family=FONT, color="black"),
    annotations=annotations, shapes=shapes,
    xaxis=r_axis(domain=xd(88, 673), range=[-0.47, 12.05], tickvals=list(range(0, 13, 2)), anchor="y",
                 tickfont=dict(size=27, family=FONT, color="black"), ticklabelstandoff=0),
    yaxis=r_axis(domain=yd(99, 623), range=[-13.65, 13.65], tickvals=[-10, -5, 0, 5, 10], anchor="x",
                 tickfont=dict(size=27, family=FONT, color="black"), ticklabelstandoff=2),
    xaxis2=r_axis(domain=xd(826, 1236), range=[0.42, 2.58], tickvals=[1, 2], ticktext=box_groups, anchor="y2",
                  ticklabelstandoff=0),
    yaxis2=r_axis(domain=yd(85, 651), range=[6.684, 9.876], tickvals=[7, 7.5, 8, 8.5, 9, 9.5],
                  ticktext=["7.0", "7.5", "8.0", "8.5", "9.0", "9.5"], tickangle=-90, anchor="x2",
                  ticklabelstandoff=8),
    xaxis3=r_axis(domain=xd(1384, 1945), range=[0, 130], tickvals=list(range(0, 121, 20)), anchor="y3",
                  ticklabelstandoff=8),
    yaxis3=r_axis(domain=yd(90, 622), range=[-0.04, 1.04], tickvals=[0, 0.2, 0.4, 0.6, 0.8, 1.0],
                  ticktext=["0.0", "0.2", "0.4", "0.6", "0.8", "1.0"], tickangle=-90, anchor="x3",
                  ticklabelstandoff=8),
    xaxis4=p_axis(domain=xd(166, 609), range=[-0.672, 1.672], tickvals=[0, 1], ticktext=d_groups, anchor="y4"),
    yaxis4=p_axis(domain=yd(802, 1204), range=[0, 1.5], tickvals=[0, 0.5, 1, 1.5],
                  ticktext=["0.0", "0.5", "1.0", "1.5"], anchor="x4"),
    xaxis5=p_axis(domain=xd(809, 1216), range=[-0.7, 4.7], tickvals=list(range(5)), ticktext=e_cells,
                  tickangle=-45, anchor="y5"),
    yaxis5=p_axis(domain=yd(802, 1204), range=[0, 1.5], tickvals=[0, 0.5, 1, 1.5],
                  ticktext=["0.0", "0.5", "1.0", "1.5"], anchor="x5"),
    xaxis6=p_axis(domain=xd(124, 558), range=[-0.443, 1.443], tickvals=[0, 1], ticktext=g_groups, anchor="y6",
                  ticklabelstandoff=-8),
    yaxis6=p_axis(domain=yd(1539, 1938), range=[0, 1.5], tickvals=[0, 0.5, 1, 1.5],
                  ticktext=["0.0", "0.5", "1.0", "1.5"], anchor="x6"),
    xaxis7=p_axis(domain=xd(853, 1251), range=[-0.67, 1.67], ticks="", showticklabels=False, anchor="y7"),
    yaxis7=p_axis(domain=yd(1539, 1940), range=[0, 1.5], tickvals=[0, 0.5, 1, 1.5],
                  ticktext=["0.0", "0.5", "1.0", "1.5"], anchor="x7"),
    xaxis8=p_axis(domain=xd(1479, 1937), range=[-0.458, 1.466], tickvals=[0, 1], ticktext=i_groups, anchor="y8",
                  ticklabelstandoff=-10),
    yaxis8=p_axis(domain=yd(1537, 1939), range=[0, 3], tickvals=[0, 1, 2, 3], anchor="x8"),
)

fig.write_html("out.html", config={"displayModeBar": False},
               post_script="document.body.style.margin='0';document.body.style.overflow='hidden';")
